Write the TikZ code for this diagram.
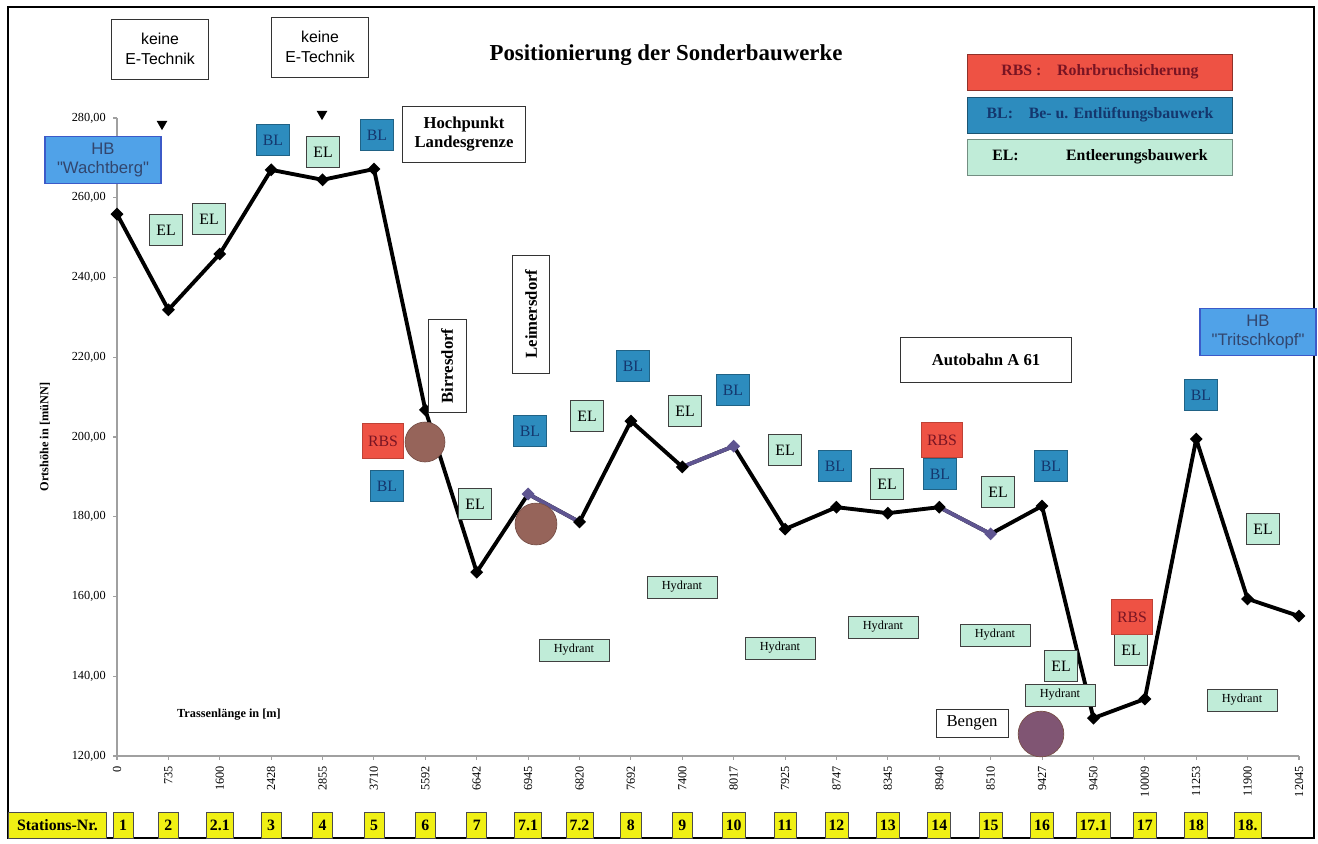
\documentclass[tikz,border=0pt]{standalone}
\usepackage{fontspec}
\setmainfont{Liberation Serif}
\newfontfamily\arialfont{Liberation Sans}
\usetikzlibrary{shapes.geometric, positioning}
\definecolor{rbs_red}{RGB}{238, 82, 68}
\definecolor{rbs_text}{RGB}{120, 20, 35}
\definecolor{bl_blue}{RGB}{45, 140, 190}
\definecolor{bl_text}{RGB}{20, 55, 110}
\definecolor{el_green}{RGB}{192, 236, 216}
\definecolor{hb_blue}{RGB}{80, 162, 232}
\definecolor{hb_border}{RGB}{60, 90, 200}
\definecolor{hb_text}{RGB}{50, 70, 110}
\definecolor{station_yellow}{RGB}{240, 240, 20}
\definecolor{pipe_purple}{RGB}{95, 85, 145}
\definecolor{site_brown}{RGB}{150, 100, 90}
\definecolor{axis_gray}{RGB}{160, 160, 160}

\begin{document}
\begin{tikzpicture}[
    x=0.02cm, y=-0.02cm,
    % Node styles
    bauwerk/.style={
        rectangle,
        draw=black!75,
        fill=#1,
        minimum width=18.5pt,
        minimum height=17.5pt,
        inner sep=1pt,
        font=\fontsize{9}{10}\selectfont
    },
    el/.style={bauwerk=el_green},
    bl/.style={bauwerk=bl_blue, draw=bl_blue!70!black, text=bl_text},
    rbs/.style={bauwerk=rbs_red, draw=rbs_red!80!black, text=rbs_text,
        minimum width=23pt, minimum height=20pt},
    hydrant/.style={bauwerk=el_green, minimum width=40pt, minimum height=12.5pt,
        font=\fontsize{7}{8}\selectfont},
    ort/.style={
        rectangle,
        draw=black!80,
        fill=white,
        align=center,
        inner sep=2pt,
        font=\fontsize{9.5}{11}\selectfont\bfseries
    },
    hinweis/.style={
        rectangle,
        draw=black!80,
        fill=white,
        align=center,
        minimum width=55pt,
        minimum height=34pt,
        font=\arialfont\fontsize{9}{11}\selectfont
    },
    hb/.style={
        rectangle,
        draw=hb_border,
        thick,
        fill=hb_blue,
        text=hb_text,
        align=center,
        inner sep=1pt,
        minimum width=66pt,
        minimum height=27pt,
        font=\arialfont\fontsize{9.5}{11}\selectfont
    },
    legende/.style={
        rectangle,
        draw=#1!60!black,
        fill=#1,
        minimum width=151pt,
        minimum height=20.5pt,
        font=\fontsize{9}{10}\selectfont\bfseries
    },
    station/.style={
        rectangle,
        draw=black!70,
        fill=station_yellow,
        minimum width=11.5pt,
        minimum height=14.7pt,
        inner sep=2pt,
        font=\fontsize{9}{10}\selectfont\bfseries
    },
    messpunkt/.style={diamond, fill=#1, inner sep=0pt, minimum size=7.5pt},
    ortslage/.style={circle, fill=site_brown, draw=site_brown!80!black,
        inner sep=0pt, minimum size=#1},
    marke/.style={regular polygon, regular polygon sides=3, shape border rotate=180,
        fill=black, inner sep=0pt, minimum size=7pt},
    profil/.style={line width=2.2pt, draw=#1, line join=round},
    achse/.style={draw=axis_gray, line width=0.6pt},
    xwert/.style={rotate=90, anchor=east, inner sep=0pt, font=\fontsize{7}{8}\selectfont},
    ywert/.style={anchor=east, inner sep=0pt, font=\fontsize{7}{8}\selectfont},
    titel/.style={font=\fontsize{7}{8}\selectfont\bfseries}
]

\useasboundingbox (0,0) rectangle (1318,843);
\draw[line width=0.8pt] (8,7) rectangle (1314,838);

% title
\node[font=\fontsize{13}{15}\selectfont\bfseries] (title) at (666,55) {Positionierung der Sonderbauwerke};

% axes
\draw[achse] (117,118) -- (117,756) -- (1299,756);
\foreach \v in {120,140,...,280} {
    \draw[achse] (113,{756-3.9875*(\v-120)}) -- ++(4,0);
    \node[ywert] (y\v) at (106,{756-3.9875*(\v-120)}) {\v,00};
}
\foreach \km [count=\i from 0] in {0,735,1600,2428,2855,3710,5592,6642,6945,6820,7692,7400,8017,7925,8747,8345,8940,8510,9427,9450,10009,11253,11900,12045} {
    \draw[achse] ({117+51.39*\i},756) -- ++(0,4);
    \node[xwert] (x\i) at ({117+51.39*\i},766) {\km};
}
\node[titel, rotate=90] (ytitle) at (45,437) {Ortshöhe in [müNN]};
\node[titel] (xtitle) at (229,715) {Trassenlänge in [m]};

% height profile
\foreach \h [count=\i from 0] in {255.9,231.9,245.9,267.0,264.5,267.2,206.8,166.1,185.7,178.7,204.0,192.5,197.7,176.9,182.4,180.9,182.4,175.7,182.7,129.5,134.3,199.5,159.4,155.1}
    \coordinate (p\i) at ({117+51.39*\i},{756-3.9875*(\h-120)});

\draw[profil=black] (p0) \foreach \i in {1,...,23} {-- (p\i)};
\draw[profil=pipe_purple] (p8) -- (p9);
\draw[profil=pipe_purple] (p11) -- (p12);
\draw[profil=pipe_purple] (p16) -- (p17);
\foreach \i in {0,...,7,9,10,11,13,14,15,16,18,19,20,21,22,23}
    \node[messpunkt=black] (m\i) at (p\i) {};
\foreach \i in {8,12,17}
    \node[messpunkt=pipe_purple] (m\i) at (p\i) {};

% places
\node[ortslage=22.7pt] (birr_site) at (425,442) {};
\node[ortslage=23.8pt] (leim_site) at (536,524) {};
\node[ortslage=26pt, fill=site_brown!85!blue] (beng_site) at (1041,734) {};

% notes on top
\node[hinweis] (etech1) at (160,49) {keine\\E-Technik};
\node[hinweis] (etech2) at (320,47) {keine\\E-Technik};
\node[marke] (tri1) at (162,124) {};
\node[marke] (tri2) at (322,114) {};

% legend
\node[legende=rbs_red, text=rbs_text] (leg_rbs) at (1100,72) {RBS :\quad Rohrbruchsicherung};
\node[legende=bl_blue, text=bl_text] (leg_bl) at (1100,115) {BL:\quad Be- u. Entlüftungsbauwerk};
\node[legende=el_green] (leg_el) at (1100,157) {EL:\hspace{3em}Entleerungsbauwerk};

% reservoirs and places
\node[hb] (hb_wacht) at (103,160) {HB\\"Wachtberg"};
\node[hb] (hb_trit) at (1258,332) {HB\\"Tritschkopf"};
\node[ort, minimum width=70pt, minimum height=32pt] (hochpunkt) at (464,134) {Hochpunkt\\Landesgrenze};
\node[ort, rotate=90, minimum width=53pt, minimum height=21.5pt] (birresdorf) at (447,366) {Birresdorf};
\node[ort, rotate=90, minimum width=67pt, minimum height=21pt] (leimersdorf) at (531,314) {Leimersdorf};
\node[ort, minimum width=97pt, minimum height=25.5pt, text depth=-5pt] (autobahn) at (986,360) {Autobahn A 61};
\node[ort, font=\fontsize{9.5}{11}\selectfont, minimum width=41pt, minimum height=16pt] (bengen) at (972,723) {Bengen};

% special structures
\node[bl] (bl1) at (273,140) {BL};
\node[el] (el1) at (323,152) {EL};
\node[bl] (bl2) at (377,135) {BL};
\node[el] (el2) at (166,230) {EL};
\node[el] (el3) at (209,219) {EL};
\node[rbs] (rbs1) at (383,441) {RBS};
\node[bl] (bl3) at (387,486) {BL};
\node[bl] (bl4) at (530,431) {BL};
\node[el] (el4) at (475,504) {EL};
\node[el] (el5) at (587,416) {EL};
\node[bl] (bl5) at (633,366) {BL};
\node[el] (el6) at (685,411) {EL};
\node[bl] (bl6) at (733,390) {BL};
\node[el] (el7) at (785,450) {EL};
\node[bl] (bl7) at (835,466) {BL};
\node[el] (el8) at (887,484) {EL};
\node[bl] (bl8) at (940,474) {BL};
\node[rbs] (rbs2) at (942,440) {RBS};
\node[el] (el9) at (998,492) {EL};
\node[bl] (bl9) at (1051,466) {BL};
\node[bl] (bl10) at (1201,395) {BL};
\node[el] (el10) at (1263,529) {EL};
\node[el] (el11) at (1131,650) {EL};
\node[rbs] (rbs3) at (1132,617) {RBS};
\node[el] (el12) at (1061,666) {EL};

% hydrants
\node[hydrant] (hyd1) at (682,587) {Hydrant};
\node[hydrant] (hyd2) at (574,650) {Hydrant};
\node[hydrant] (hyd3) at (780,648) {Hydrant};
\node[hydrant] (hyd4) at (883,627) {Hydrant};
\node[hydrant] (hyd5) at (995,635) {Hydrant};
\node[hydrant] (hyd6) at (1060,695) {Hydrant};
\node[hydrant] (hyd7) at (1242,700) {Hydrant};

% station numbers
\node[station, minimum width=56pt] (stations) at (57.5,825) {Stations-Nr.};
\foreach \nr [count=\i from 0] in {1,2,2.1,3,4,5,6,7,7.1,7.2,8,9,10,11,12,13,14,15,16,17.1,17,18,18.}
    \node[station] (s\i) at ({117+51.39*\i+6*(\i==0)},825) {\nr};

\end{tikzpicture}
\end{document}
